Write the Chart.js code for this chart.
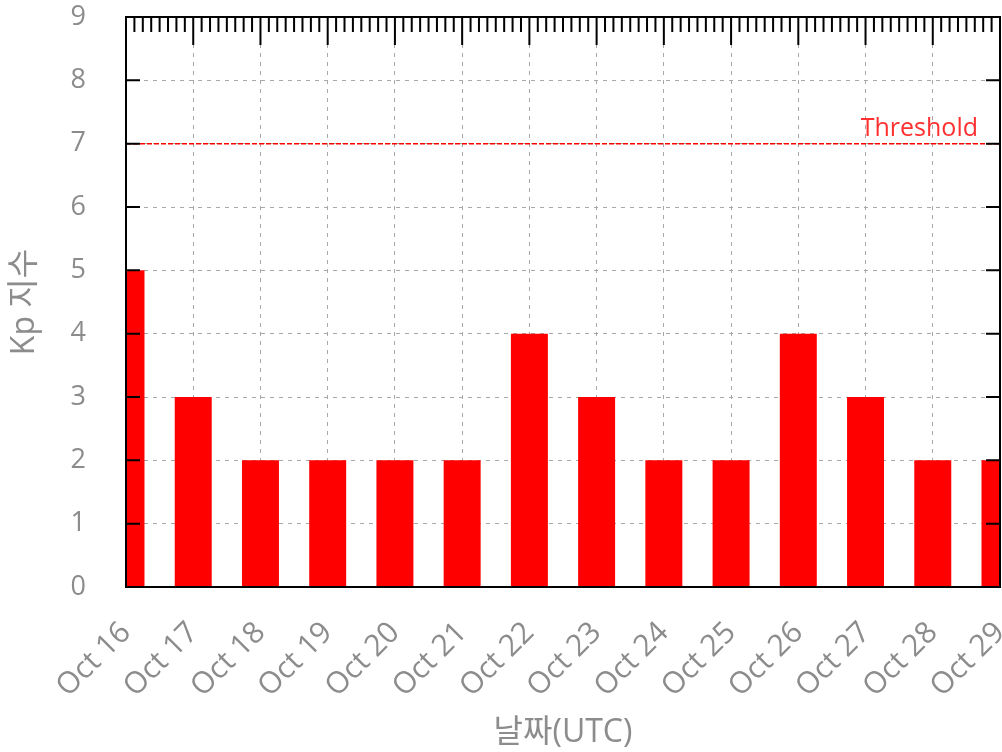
<title>Kp 지수</title>
<meta charset="UTF-8">
<body style="margin:0; background:#fff">
<script src="https://cdn.jsdelivr.net/npm/chart.js@4/dist/chart.umd.min.js"></script>
<canvas id="kp" width="1002" height="752" style="display:block"></canvas>
<script>
// daily Kp, Oct 16 .. Oct 29
var days = ["Oct 16", "Oct 17", "Oct 18", "Oct 19", "Oct 20", "Oct 21", "Oct 22",
            "Oct 23", "Oct 24", "Oct 25", "Oct 26", "Oct 27", "Oct 28", "Oct 29"];
var kp = [5, 3, 2, 2, 2, 2, 4, 3, 2, 2, 4, 3, 2, 2];
var threshold = 7;
var yTicks = [0, 1, 2, 3, 4, 5, 6, 7, 8, 9];

var font = "'Open Sans', 'Noto Sans CJK KR', sans-serif";
var grey = "#8c8c8c";

var bars = kp.map(function(v, i) { return {x: i, y: v}; });
var thrLine = [{x: 0, y: threshold}, {x: days.length - 1, y: threshold}];

// gnuplot-style frame: box, inward ticks, minor ticks on top, threshold label
var frame = {
  id: "frame",
  afterDatasetsDraw: function(chart) {
    var c = chart.ctx, a = chart.chartArea;
    var xs = chart.scales.x, ys = chart.scales.y;
    c.save();
    c.strokeStyle = "#000";
    c.lineWidth = 2;
    c.setLineDash([]);
    c.strokeRect(a.left, a.top, a.right - a.left, a.bottom - a.top);
    c.beginPath();
    yTicks.forEach(function(v) {
      var y = ys.getPixelForValue(v);
      c.moveTo(a.left, y); c.lineTo(a.left + 14, y);
      c.moveTo(a.right, y); c.lineTo(a.right - 14, y);
    });
    for (var i = 0; i < days.length; i++) {
      var x = xs.getPixelForValue(i);
      c.moveTo(x, a.top); c.lineTo(x, a.top + 28);
      if (i < days.length - 1) {
        for (var k = 1; k < 8; k++) {
          var xm = xs.getPixelForValue(i + k / 8);
          c.moveTo(xm, a.top); c.lineTo(xm, a.top + 15);
        }
      }
    }
    c.stroke();
    c.fillStyle = "#ff3030";
    c.font = "25px " + font;
    c.textAlign = "right";
    c.textBaseline = "alphabetic";
    c.fillText("Threshold", xs.getPixelForValue(days.length - 1) - 22, ys.getPixelForValue(threshold) - 8);
    c.restore();
  }
};

function noPad(s) {
  s.paddingLeft = 0; s.paddingRight = 0;
  s.paddingTop = 0; s.paddingBottom = 0;
}

new Chart("kp", {
  type: "bar",
  data: {
    datasets: [{
      type: "line",
      data: thrLine,
      borderColor: "#ff0000",
      borderWidth: 1.5,
      borderDash: [5, 2],
      pointRadius: 0,
      order: 0
    }, {
      data: bars,
      backgroundColor: "#ff0000",
      borderWidth: 0,
      barPercentage: 0.55,
      categoryPercentage: 1,
      order: 1
    }]
  },
  options: {
    responsive: false,
    animation: false,
    layout: { padding: { top: 17, right: 2, left: 0, bottom: 0 } },
    plugins: { legend: { display: false }, tooltip: { enabled: false } },
    scales: {
      x: {
        type: "linear",
        min: 0,
        max: days.length - 1,
        offset: false,
        afterFit: function(s) { s.height = 165; noPad(s); },
        grid: { offset: false, color: "#a8a8a8", lineWidth: 1, drawTicks: false },
        border: { display: false, dash: [4, 5] },
        ticks: {
          stepSize: 1,
          autoSkip: false,
          maxRotation: 45,
          minRotation: 45,
          padding: 28,
          color: grey,
          font: { family: font, size: 30 },
          callback: function(v) { return days[v]; }
        },
        title: {
          display: true,
          text: "날짜(UTC)",
          color: grey,
          padding: { top: 0, bottom: 0 },
          font: { family: font, size: 32 }
        }
      },
      y: {
        min: 0,
        max: 9,
        afterFit: function(s) { s.width = 126; noPad(s); },
        grid: { color: "#a8a8a8", lineWidth: 1, drawTicks: false },
        border: { display: false, dash: [4, 5] },
        ticks: {
          stepSize: 1,
          padding: 40,
          color: grey,
          font: { family: font, size: 27 }
        },
        title: {
          display: true,
          text: "Kp 지수",
          color: grey,
          padding: { top: 6, bottom: 0 },
          font: { family: font, size: 32 }
        }
      }
    }
  },
  plugins: [frame]
});
</script>
